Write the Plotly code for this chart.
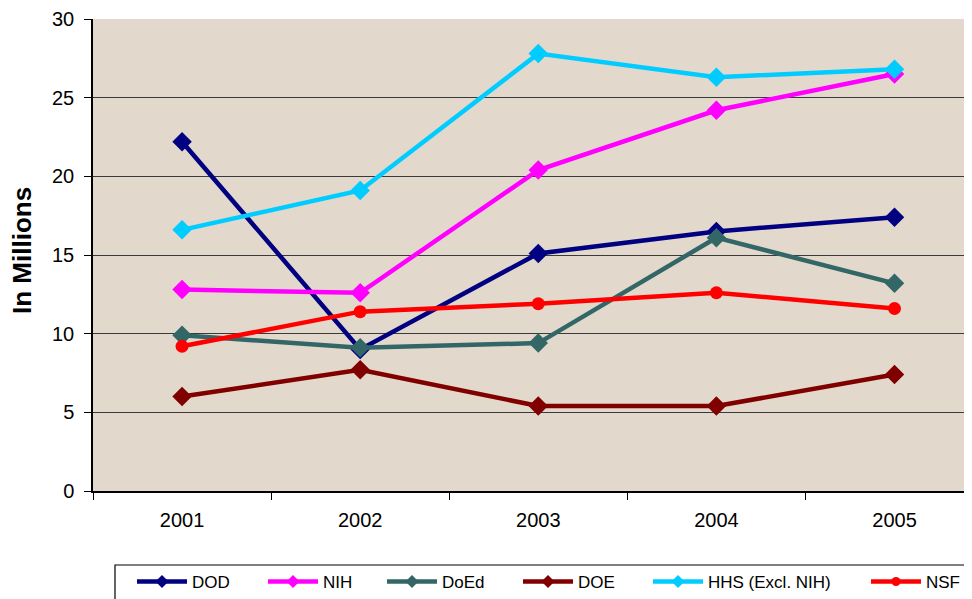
import plotly.graph_objects as go

years = ["2001", "2002", "2003", "2004", "2005"]
dod = [22.2, 9.0, 15.1, 16.5, 17.4]
nih = [12.8, 12.6, 20.4, 24.2, 26.5]
doed = [9.9, 9.1, 9.4, 16.1, 13.2]
doe = [6.0, 7.7, 5.4, 5.4, 7.4]
hhs = [16.6, 19.1, 27.8, 26.3, 26.8]
nsf = [9.2, 11.4, 11.9, 12.6, 11.6]

series = [
    ("DOD", dod, "#000080", "diamond"),
    ("NIH", nih, "#FF00FF", "diamond"),
    ("DoEd", doed, "#336666", "diamond"),
    ("DOE", doe, "#800000", "diamond"),
    ("HHS (Excl. NIH)", hhs, "#00CCFF", "diamond"),
    ("NSF", nsf, "#FF0000", "circle"),
]

# page -> figure offset (body margin 8px)
OFF = 8
L, T, B = 93 - OFF, 19 - OFF, 491 - OFF
FW, FH = 972, 599
PW = FW - L
PH = B - T


def px(xpage):
    return (xpage - OFF - L) / PW


def py(ypage):
    return (B - (ypage - OFF)) / PH


legend_starts = [137, 268, 387, 523, 653, 871]

fig = go.Figure()
legends = {}
for i, ((name, vals, color, sym), xs) in enumerate(zip(series, legend_starts)):
    lname = "legend" if i == 0 else f"legend{i + 1}"
    fig.add_trace(go.Scatter(
        x=years, y=vals, name=name, mode="lines+markers",
        line=dict(color=color, width=4.5),
        marker=dict(symbol=sym, size=15 if sym == "diamond" else 13, color=color),
        showlegend=False,
    ))
    # legend entry with the smaller legend marker
    fig.add_trace(go.Scatter(
        x=[None], y=[None], name=name, mode="lines+markers",
        line=dict(color=color, width=4.5),
        marker=dict(symbol=sym, size=10 if sym == "diamond" else 9, color=color),
        legend=lname, showlegend=True,
    ))
    legends[lname] = dict(
        orientation="h", x=px(xs - 5), y=py(582), xanchor="left", yanchor="middle",
        bgcolor="rgba(0,0,0,0)", borderwidth=0,
        font=dict(size=17, family="Liberation Sans, Arial, sans-serif"),
        itemwidth=50,
    )

fig.update_layout(
    width=FW, height=FH,
    margin=dict(l=L, r=0, t=T, b=FH - B, autoexpand=False),
    paper_bgcolor="white",
    plot_bgcolor="#E2D9CC",
    font=dict(family="Liberation Sans, Arial, sans-serif", size=20, color="black"),
    showlegend=True,
    **legends,
)

fig.add_shape(
    type="rect", xref="paper", yref="paper",
    x0=px(115), x1=px(968), y0=py(565), y1=py(640),
    line=dict(color="black", width=1.2), fillcolor="rgba(0,0,0,0)",
)

fig.add_annotation(
    text="<b>In Millions</b>", xref="paper", yref="paper",
    x=px(22), y=py(251), xanchor="center", yanchor="middle",
    textangle=-90, showarrow=False,
    font=dict(size=26, color="black", family="Liberation Sans, Arial, sans-serif"),
)

fig.update_xaxes(
    type="category", range=[-0.5, 4.48], showgrid=False,
    showline=True, linecolor="black", linewidth=1.5,
    ticks="outside", tickson="boundaries", ticklen=7, tickcolor="black",
    tickfont=dict(size=20), ticklabelstandoff=10,
)
fig.update_yaxes(
    range=[0, 30], dtick=5, showgrid=True, gridcolor="#3a3a3a", gridwidth=1,
    showline=True, linecolor="black", linewidth=1.5,
    ticks="outside", ticklen=7, tickcolor="black", zeroline=False,
    tickfont=dict(size=20), ticklabelstandoff=6,
)

fig.write_html("out.html")
